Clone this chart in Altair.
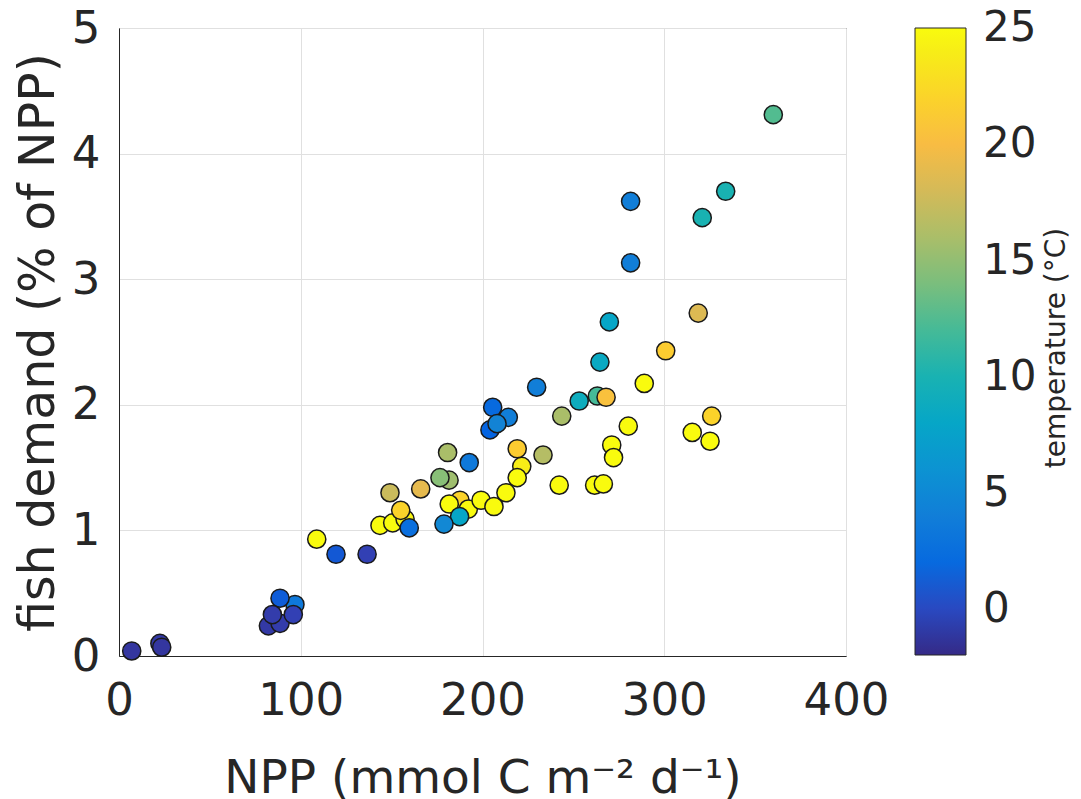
import altair as alt
import pandas as pd

# NPP (mmol C m-2 d-1)
npp = [7.0, 22.5, 23.5, 82.2, 88.6, 96.8, 88.6, 84.4, 95.9, 108.8,
       119.4, 136.5, 143.6, 150.6, 157.4, 155.0, 159.7, 149.1, 166.0, 181.6,
       176.6, 180.8, 192.7, 187.6, 181.7, 192.2, 187.4, 178.8, 199.2, 206.3,
       212.9, 221.6, 219.1, 219.1, 233.3, 242.2, 261.7, 266.5, 205.6, 204.1,
       214.2, 208.0, 229.8, 243.6, 253.2, 263.2, 268.0, 264.6, 269.8, 289.0,
       300.8, 318.7, 281.5, 281.5, 320.9, 333.8, 360.0, 280.2, 271.1, 272.1,
       315.4, 325.2, 326.1]
# fish demand (% of NPP)
demand = [0.04, 0.10, 0.07, 0.24, 0.26, 0.41, 0.46, 0.33, 0.33, 0.93,
          0.81, 0.81, 1.04, 1.06, 1.09, 1.16, 1.02, 1.30, 1.33, 1.40,
          1.42, 1.62, 1.54, 1.24, 1.21, 1.17, 1.11, 1.05, 1.24, 1.19,
          1.30, 1.51, 1.42, 1.65, 1.60, 1.36, 1.36, 1.37, 1.98, 1.80,
          1.90, 1.85, 2.14, 1.91, 2.03, 2.07, 2.06, 2.34, 2.66, 2.17,
          2.43, 2.73, 3.13, 3.62, 3.49, 3.70, 4.31, 1.83, 1.68, 1.58,
          1.78, 1.71, 1.91]
# temperature (deg C)
temp = [-1.2, -1.0, -1.2, -1.0, -0.8, 3.5, 1.0, -0.8, -0.5, 25.0,
        0.8, -0.5, 25.0, 25.0, 24.5, 22.0, 2.5, 17.5, 19.0, 15.5,
        14.5, 16.0, 3.5, 22.0, 25.0, 25.0, 8.0, 5.0, 25.0, 25.0,
        25.0, 24.0, 25.0, 21.5, 16.5, 25.0, 25.0, 25.0, 2.0, 1.5,
        4.0, 4.5, 4.0, 16.0, 9.0, 12.0, 20.5, 8.5, 8.0, 25.0,
        21.5, 18.5, 4.0, 4.0, 10.0, 10.0, 12.5, 25.0, 25.0, 25.0,
        25.0, 25.0, 22.0]

x_ticks = [0, 100, 200, 300, 400]
y_ticks = [0, 1, 2, 3, 4, 5]
cbar_ticks = [0, 5, 10, 15, 20, 25]

parula = ["#352A87", "#3243BA", "#0363E1", "#0D75DC", "#1485D4", "#0998D1",
          "#06A7C6", "#15B1B4", "#38B99E", "#65BE86", "#92BF73", "#B7BD64",
          "#D9BA56", "#F8BB44", "#FCCE2E", "#F5E41D", "#F9FB0E"]

df = pd.DataFrame({"npp": npp, "demand": demand, "temp": temp,
                   "order": list(range(len(npp)))})

FONT = "DejaVu Sans"
INK = "#262626"

points = alt.Chart(df).mark_circle(
    size=330, opacity=1, stroke="#1a1a1a", strokeWidth=1.5
).encode(
    x=alt.X("npp:Q",
            scale=alt.Scale(domain=[0, 400], nice=False, zero=False),
            axis=alt.Axis(values=x_ticks, title="NPP (mmol C m⁻² d⁻¹)",
                          labelFontSize=45, labelPadding=22, ticks=False,
                          labelFlush=False,
                          titleFontSize=47, titleY=136, titleBaseline="alphabetic")),
    y=alt.Y("demand:Q",
            scale=alt.Scale(domain=[0, 5], nice=False),
            axis=alt.Axis(values=y_ticks, title="fish demand (% of NPP)",
                          labelFontSize=45, labelPadding=19, ticks=False,
                          labelFlush=False,
                          titleFontSize=49, titleX=-66, titleBaseline="alphabetic")),
    color=alt.Color("temp:Q",
                    scale=alt.Scale(domain=[-2, 25.02], range=parula, interpolate="rgb"),
                    legend=alt.Legend(orient="none", legendX=796, legendY=0,
                                      direction="vertical", gradientLength=627,
                                      gradientThickness=51, values=cbar_ticks,
                                      labelFontSize=42, labelFont=FONT, labelColor=INK,
                                      labelOffset=17, labelBaseline="middle",
                                      labelOverlap=False, title=None,
                                      gradientStrokeColor=INK, gradientStrokeWidth=1,
                                      padding=0)),
    order=alt.Order("order:Q")
)

cbar_title = alt.Chart(pd.DataFrame({"t": ["temperature (°C)"]})).mark_text(
    angle=270, fontSize=28, font=FONT, color=INK, align="center", baseline="middle"
).encode(x=alt.value(938), y=alt.value(320), text="t:N")

chart = alt.layer(points, cbar_title).properties(
    width=727, height=628,
    padding={"left": 111, "top": 20, "right": 227, "bottom": 143},
    autosize=alt.AutoSizeParams(type="none")
).configure_axis(
    labelFont=FONT, titleFont=FONT, labelColor=INK, titleColor=INK,
    titleFontWeight="normal", domainColor=INK, domainWidth=1,
    gridColor="#e0e0e0", gridWidth=1
).configure_view(
    stroke=INK, strokeWidth=1
)

chart.save("out.html", embed_options={"renderer": "svg", "actions": False})
